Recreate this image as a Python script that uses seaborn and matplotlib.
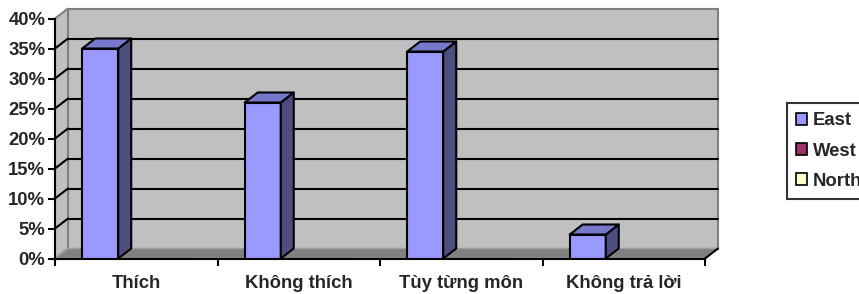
import matplotlib
matplotlib.use("Agg")
import matplotlib.pyplot as plt
import seaborn as sns
import pandas as pd
from matplotlib.patches import Polygon, Patch
from matplotlib.ticker import FuncFormatter

# ---- data ----
categories = ["Thích", "Không thích", "Tùy từng môn", "Không trả lời"]
series_names = ["East", "West", "North"]
east = [0.35, 0.26, 0.345, 0.04]
west = [0.0, 0.0, 0.0, 0.0]
north = [0.0, 0.0, 0.0, 0.0]
y_ticks = [0, 0.05, 0.10, 0.15, 0.20, 0.25, 0.30, 0.35, 0.40]

colors = ["#9999FF", "#993366", "#FFFFCC"]
side_col = "#4D4D80"
top_col = "#7777CC"

df = pd.DataFrame({
    "cat": categories * 3,
    "series": [s for s in series_names for _ in categories],
    "val": east + west + north,
})

sns.set_theme(style="white")
plt.rcParams["font.family"] = ["Liberation Sans", "DejaVu Sans"]
plt.rcParams["font.weight"] = "bold"
FS = 13.3

W, H = 859, 294
fig = plt.figure(figsize=(W / 100, H / 100), dpi=100)
ax = fig.add_axes([55 / W, (H - 258.5) / H, 650 / W, 240 / H])

sns.barplot(data=df, x="cat", y="val", hue="series", palette=colors,
            width=0.665, edgecolor="black", linewidth=1.5, saturation=1,
            ax=ax, legend=False, zorder=3)

ax.set_xlim(-0.5, 3.5)
ax.set_ylim(0, 0.40)
ax.patch.set_visible(False)

dx = 13 / 162.5
dy = 10 / 600.0
x0, x1 = -0.5, 3.5
top = 0.40

# back wall
ax.add_patch(Polygon([(x0 + dx, dy), (x1 + dx, dy), (x1 + dx, top + dy), (x0 + dx, top + dy)],
                     closed=True, facecolor="#C0C0C0", edgecolor="#808080", lw=1.5,
                     clip_on=False, zorder=0.5))
# left wall
ax.add_patch(Polygon([(x0, 0), (x0 + dx, dy), (x0 + dx, top + dy), (x0, top)],
                     closed=True, facecolor="#C0C0C0", edgecolor="#808080", lw=1.5,
                     clip_on=False, zorder=0.5))
# gridlines
for t in y_ticks[:-1]:
    if t == 0:
        continue
    ax.plot([x0 + dx, x1 + dx], [t + dy, t + dy], color="black", lw=1.5,
            clip_on=False, zorder=1)
    ax.plot([x0, x0 + dx], [t, t + dy], color="black", lw=1.5,
            clip_on=False, zorder=1)
# floor
ax.add_patch(Polygon([(x0, 0), (x1, 0), (x1 + dx, dy), (x0 + dx, dy)],
                     closed=True, facecolor="#808080", edgecolor="#A0A0A0", lw=1,
                     clip_on=False, zorder=1.2))
ax.plot([x1, x1 + dx], [0, dy], color="black", lw=1.5, clip_on=False, zorder=1.3)

# 3D faces for bars
for p in list(ax.patches):
    if not hasattr(p, "get_height"):
        continue
    try:
        h = p.get_height()
    except Exception:
        continue
    if h <= 0 or p.get_zorder() != 3:
        continue
    bx0 = p.get_x()
    bx1 = bx0 + p.get_width()
    ax.add_patch(Polygon([(bx1, 0), (bx1 + dx, dy), (bx1 + dx, h + dy), (bx1, h)],
                         closed=True, facecolor=side_col, edgecolor="black", lw=1.5,
                         clip_on=False, zorder=3, joinstyle="round"))
    ax.add_patch(Polygon([(bx0, h), (bx1, h), (bx1 + dx, h + dy), (bx0 + dx, h + dy)],
                         closed=True, facecolor=top_col, edgecolor="black", lw=1.5,
                         clip_on=False, zorder=3, joinstyle="round"))

# axes styling
for s in ["top", "right"]:
    ax.spines[s].set_visible(False)
for s in ["left", "bottom"]:
    ax.spines[s].set_color("black")
    ax.spines[s].set_linewidth(1.5)
    ax.spines[s].set_zorder(4)

ax.set_yticks(y_ticks)
ax.yaxis.set_major_formatter(FuncFormatter(lambda v, _: f"{v * 100:.0f}%"))
ax.tick_params(axis="y", direction="out", length=5, width=1.5, color="black",
               labelsize=FS, pad=2, left=True)
ax.set_xticks(range(len(categories)))
ax.set_xticklabels(categories)
ax.set_xticks([-0.5, 0.5, 1.5, 2.5, 3.5], minor=True)
ax.tick_params(axis="x", which="major", length=0, labelsize=FS, pad=12)
ax.tick_params(axis="x", which="minor", direction="out", length=5, width=1.5,
               color="black", bottom=True)
for lab in ax.get_xticklabels() + ax.get_yticklabels():
    lab.set_fontweight("bold")
ax.set_xlabel("")
ax.set_ylabel("")

# legend
handles = [Patch(facecolor=c, edgecolor="black", lw=1.2) for c in colors]
leg = fig.legend(handles, series_names, loc="upper left",
                 bbox_to_anchor=(787 / W, 1 - 103 / H), frameon=True,
                 fancybox=False, handlelength=0.6, handleheight=0.6,
                 handletextpad=0.3, labelspacing=0.72, borderpad=0.5,
                 borderaxespad=0, prop={"size": FS, "weight": "bold"})
leg.get_frame().set_edgecolor("black")
leg.get_frame().set_linewidth(1.5)

fig.savefig("out.png", dpi=100)
